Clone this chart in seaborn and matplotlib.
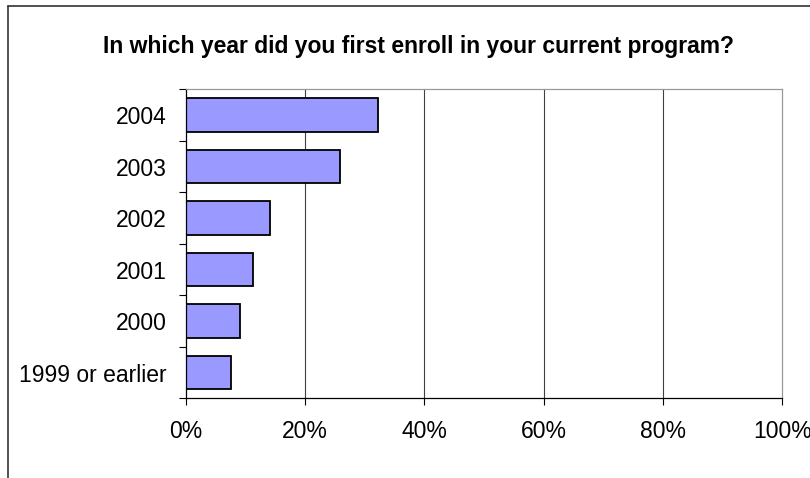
import numpy as np
import pandas as pd
import matplotlib
matplotlib.use('Agg')
import matplotlib.pyplot as plt
from matplotlib.lines import Line2D
from matplotlib.ticker import FixedLocator
import seaborn as sns

# data
years = ['2004', '2003', '2002', '2001', '2000', '1999 or earlier']
share = [32.3, 25.8, 14.2, 11.2, 9.1, 7.6]   # percent of respondents
x_ticks = [0, 20, 40, 60, 80, 100]
x_labels = ['0%', '20%', '40%', '60%', '80%', '100%']

df = pd.DataFrame({'year': years, 'share': share})

sns.set_style('white')
plt.rcParams['font.family'] = ['Liberation Sans', 'DejaVu Sans']
plt.rcParams['text.color'] = 'black'
plt.rcParams['xtick.color'] = 'black'
plt.rcParams['ytick.color'] = 'black'

fig = plt.figure(figsize=(8.1, 4.78), dpi=100)
ax = fig.add_axes([0.2293, 0.1667, 0.7367, 0.6465])

sns.barplot(data=df, x='share', y='year', orient='h', color='#9999FF',
            saturation=1, edgecolor='black', linewidth=1.3, width=0.65, ax=ax)

ax.set_xlim(0, 100)
ax.set_ylim(len(years) - 0.5, -0.5)
ax.set_xlabel('')
ax.set_ylabel('')

# gridlines at 20% steps
for v in x_ticks[1:-1]:
    ax.axvline(v, color='#404040', lw=0.8, zorder=0)

ax.set_xticks(x_ticks)
ax.set_xticklabels(x_labels, fontsize=16.5, color='black')
ax.tick_params(axis='x', direction='out', length=5.3, width=0.8, color='black',
               pad=10.5, bottom=True)

# category labels in the middle, tick marks on the boundaries
ax.set_yticks(range(len(years)))
ax.set_yticklabels(years, fontsize=16.5, color='black')
ax.tick_params(axis='y', which='major', length=0, pad=13.5)
ax.yaxis.set_minor_locator(FixedLocator(np.arange(-0.5, len(years), 1.0)))
ax.tick_params(axis='y', which='minor', direction='out', length=5.3, width=0.8,
               color='black', left=True)

for side in ['left', 'bottom']:
    ax.spines[side].set_color('black')
    ax.spines[side].set_linewidth(0.9)
for side in ['top', 'right']:
    ax.spines[side].set_visible(True)
    ax.spines[side].set_color('#999999')
    ax.spines[side].set_linewidth(0.9)

fig.text(0.517, 0.8897, 'In which year did you first enroll in your current program?',
         ha='center', va='baseline', fontsize=16.5, fontweight='bold', color='black')

# chart area border (cut off at right and bottom)
fig.add_artist(Line2D([8 / 810, 8 / 810], [0, 1 - 6 / 478], transform=fig.transFigure,
                      color='#333333', lw=1.2))
fig.add_artist(Line2D([8 / 810, 1], [1 - 6 / 478, 1 - 6 / 478], transform=fig.transFigure,
                      color='#333333', lw=1.2))

fig.savefig('out.png', dpi=100)
